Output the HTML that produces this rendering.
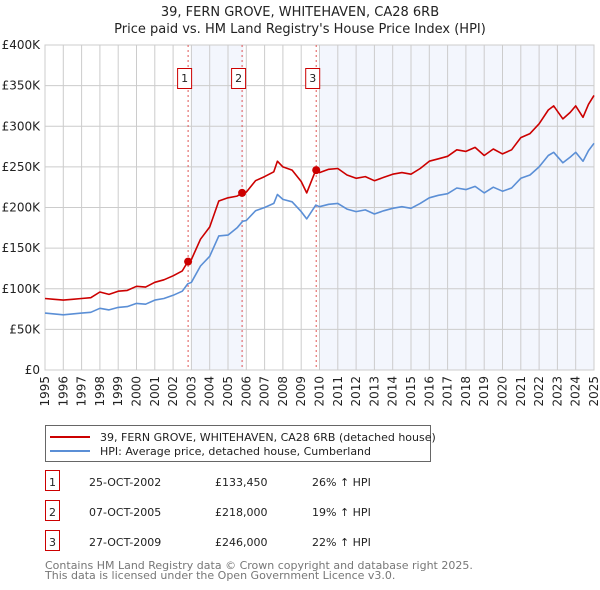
<!DOCTYPE html>
<html><head><meta charset="utf-8">
<style>
body{margin:0;background:#fff;font-family:"DejaVu Sans","Liberation Sans",sans-serif;}
#wrap{position:relative;width:600px;height:590px;overflow:hidden;}
svg text{font-family:"DejaVu Sans","Liberation Sans",sans-serif;}
</style></head>
<body>
<div id="wrap">
<svg id="chart" width="600" height="590" xmlns="http://www.w3.org/2000/svg">
<text x="300" y="16" text-anchor="middle" font-size="13" fill="#222">39, FERN GROVE, WHITEHAVEN, CA28 6RB</text>
<text x="300" y="33" text-anchor="middle" font-size="13" fill="#222">Price paid vs. HM Land Registry's House Price Index (HPI)</text>
<g id="plot"></g>
<g>
<rect x="45.5" y="425.5" width="385" height="36" fill="#fff" stroke="#666" stroke-width="1"/>
<line x1="50" y1="437" x2="90" y2="437" stroke="#cc0000" stroke-width="2"/>
<text x="100" y="441" font-size="11" fill="#222">39, FERN GROVE, WHITEHAVEN, CA28 6RB (detached house)</text>
<line x1="50" y1="451" x2="90" y2="451" stroke="#5b8fd6" stroke-width="2"/>
<text x="100" y="455" font-size="11" fill="#222">HPI: Average price, detached house, Cumberland</text>
</g>
<g id="table"></g>
<text x="45" y="569" font-size="11" fill="#777">Contains HM Land Registry data © Crown copyright and database right 2025.</text>
<text x="45" y="579" font-size="11" fill="#777">This data is licensed under the Open Government Licence v3.0.</text>
</svg>
</div>
<script>
const hpiDates=[1995,1995.5,1996,1996.5,1997,1997.5,1998,1998.5,1999,1999.5,2000,2000.5,2001,2001.5,2002,2002.5,2002.8,2003,2003.5,2004,2004.5,2005,2005.5,2005.8,2006,2006.5,2007,2007.5,2007.7,2008,2008.5,2009,2009.3,2009.8,2010,2010.5,2011,2011.5,2012,2012.5,2013,2013.5,2014,2014.5,2015,2015.5,2016,2016.5,2017,2017.5,2018,2018.5,2019,2019.5,2020,2020.5,2021,2021.5,2022,2022.5,2022.8,2023.3,2023.7,2024,2024.4,2024.7,2025];
const hpiValues=[70,69,68,69,70,71,76,74,77,78,82,81,86,88,92,97,106,108,128,140,165,166,175,183,184,196,200,205,216,210,207,195,186,203,201,204,205,198,195,197,192,196,199,201,199,205,212,215,217,224,222,226,218,225,220,224,236,240,250,264,268,255,262,268,257,270,279];
const priceValues=[88,87,86,87,88,89,96,93,97,98,103,102,108,111,116,122,133,136,161,176,208,212,214,218,219,233,238,244,257,250,246,232,218,246,243,247,248,240,236,238,233,237,241,243,241,248,257,260,263,271,269,274,264,272,266,271,286,291,303,320,325,309,317,325,311,327,338];
const saleNums=["1","2","3"];
const saleDates=[2002.82,2005.77,2009.82];
const salePrices=[133.45,218,246];
const saleDateLabels=["25-OCT-2002","07-OCT-2005","27-OCT-2009"];
const salePriceLabels=["£133,450","£218,000","£246,000"];
const saleHpiLabels=["26% ↑ HPI","19% ↑ HPI","22% ↑ HPI"];
const yTicks=[0,50,100,150,200,250,300,350,400];
const yTickLabels=["£0","£50K","£100K","£150K","£200K","£250K","£300K","£350K","£400K"];
const xTicks=[1995,1996,1997,1998,1999,2000,2001,2002,2003,2004,2005,2006,2007,2008,2009,2010,2011,2012,2013,2014,2015,2016,2017,2018,2019,2020,2021,2022,2023,2024,2025];

const X0=45,X1=594,Y0=370,Y1=45;
const xs=t=>X0+(t-1995)/(2025-1995)*(X1-X0);
const ys=v=>Y0-v/400*(Y0-Y1);
const NS="http://www.w3.org/2000/svg";
const plot=document.getElementById('plot');
function mk(tag,attrs,parent){const e=document.createElementNS(NS,tag);for(const k in attrs)e.setAttribute(k,attrs[k]);(parent||plot).appendChild(e);return e;}

const shadeStarts=[2003.0,2010.03];
const shadeEnds=[2005.85,2025];
for(let i=0;i<shadeStarts.length;i++){
  const r=mk('rect',{x:xs(shadeStarts[i]),y:Y1,width:xs(shadeEnds[i])-xs(shadeStarts[i]),height:Y0-Y1,fill:'#f3f6fd'});
  
  
}
xTicks.forEach((t,i)=>{
  const l=mk('line',{x1:xs(t),x2:xs(t),y1:Y1,y2:Y0,stroke:'#ccc','stroke-width':1});
  
  
  const tx=mk('text',{x:0,y:0,'font-size':12,fill:'#222','text-anchor':'end',transform:`translate(${xs(t)+4},${Y0+6}) rotate(-90)`});
  tx.textContent=String(t);
  
  
});
yTicks.forEach((v,i)=>{
  const l=mk('line',{x1:X0,x2:X1,y1:ys(v),y2:ys(v),stroke:'#ccc','stroke-width':1});
  
  
  const tx=mk('text',{x:40,y:ys(v)+4,'font-size':12,fill:'#222','text-anchor':'end'});
  tx.textContent=yTickLabels[i];
  
  
});
const frame=mk('rect',{x:X0,y:Y1,width:X1-X0,height:Y0-Y1,fill:'none',stroke:'#ccc','stroke-width':1});


saleDates.forEach((d,i)=>{
  const l=mk('line',{x1:xs(d),x2:xs(d),y1:Y1,y2:Y0,stroke:'#e05555','stroke-width':1,'stroke-dasharray':'2,3'});
  
  
  const b=mk('rect',{x:xs(d)-10.5,y:68.5,width:14,height:20,fill:'#fff',stroke:'#cc0000','stroke-width':1});
  
  
  const t=mk('text',{x:xs(d)-3.5,y:82,'font-size':11,fill:'#222','text-anchor':'middle'});
  t.textContent=saleNums[i];
  
  
});
function path(vals,color,name){
  const d=vals.map((v,i)=>(i?'L':'M')+xs(hpiDates[i]).toFixed(1)+','+ys(v).toFixed(1)).join('');
  const p=mk('path',{d:d,fill:'none',stroke:color,'stroke-width':1.6,'stroke-linejoin':'round'});
  
  
}
path(hpiValues,'#5b8fd6','hpi-line');
path(priceValues,'#cc0000','price-line');
saleDates.forEach((d,i)=>{
  const c=mk('circle',{cx:xs(d),cy:ys(salePrices[i]),r:4,fill:'#cc0000'});
  
  
});
const tbl=document.getElementById('table');
const rowY=[482,512,542];
saleNums.forEach((n,i)=>{
  const y=rowY[i];
  const b=mk('rect',{x:45.5,y:y-11.5,width:14,height:20,fill:'#fff',stroke:'#cc0000','stroke-width':1},tbl);
  
  
  const cols=[[52.5,n,'middle'],[89,saleDateLabels[i],'start'],[215,salePriceLabels[i],'start'],[312,saleHpiLabels[i],'start']];
  cols.forEach(c=>{
    const t=mk('text',{x:c[0],y:y+4,'font-size':11,fill:'#222','text-anchor':c[2]},tbl);
    t.textContent=c[1];
    
    
  });
});
</script>
</body></html>
